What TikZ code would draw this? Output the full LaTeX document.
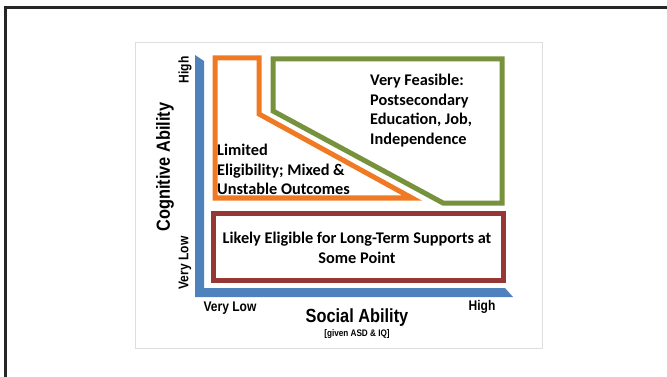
\documentclass[tikz,border=0pt]{standalone}
\usepackage{fontspec}
\setmainfont{Carlito}
\newfontfamily\axisfont[FakeStretch=0.86]{Liberation Sans}
\usepackage{tikz}
\usetikzlibrary{calc}
\tikzset{>=latex}
\definecolor{axisblue}{RGB}{79, 129, 189}
\definecolor{limorange}{RGB}{240, 122, 36}
\definecolor{feasgreen}{RGB}{118, 146, 60}
\definecolor{suppred}{RGB}{149, 55, 53}
\tikzset{
	zone/.style = {line width = 5pt, line join = miter},
	zonetext/.style = {font = \bfseries\fontsize{16.3}{19.5}\selectfont, inner sep = 0pt},
	axislabel/.style = {font = \axisfont\bfseries\fontsize{14}{16}\selectfont, inner sep = 0pt},
	axistitle/.style = {font = \axisfont\bfseries\fontsize{19}{21}\selectfont, inner sep = 0pt}
}

\begin{document}
\begin{tikzpicture}[x = 1pt, y = -1pt]
\useasboundingbox (0, 0) rectangle (667, 377);
% outer frame, open at right and bottom
\draw[line width = 3pt, black!85] (5, 377) -- (5, 8) -- (667, 8);
% slide border
\draw[black!13, line width = 1pt] (135, 43) rectangle (542, 348);

% axes
\fill[axisblue] (195, 55) -- (204, 61) -- (204, 288) -- (505, 288) -- (513, 297) -- (195, 297) -- cycle;

% zones
\draw[zone, limorange] (215, 58) -- (259, 58) -- (259, 114) -- (412, 198) -- (215, 198) -- cycle;
\draw[zone, feasgreen] (273, 59) -- (502, 59) -- (502, 203) -- (443, 203) -- (273, 111) -- cycle;
\draw[zone, suppred] (213, 213) rectangle (503, 280);

\node[zonetext, anchor = north west, align = left] (feasible) at (370, 74) {Very Feasible:\\Postsecondary\\Education, Job,\\Independence};
\node[zonetext, anchor = north west, align = left] (limited) at (217, 144) {Limited\\Eligibility; Mixed \&\\Unstable Outcomes};
\node[zonetext, align = center] (supports) at (357, 248) {Likely Eligible for Long-Term Supports at\\Some Point};

% axis labels
\node[axislabel] (xlow) at (230, 308) {Very Low};
\node[axislabel] (xhigh) at (482, 307) {High};
\node[axistitle] (xtitle) at (357, 318) {Social Ability};
\node[font = \axisfont\bfseries\fontsize{9.5}{10}\selectfont, inner sep = 0pt] (xnote) at (357, 334) {[given ASD \& IQ]};
\node[axislabel, rotate = 90] (ylow) at (185, 263) {Very Low};
\node[axislabel, rotate = 90] (yhigh) at (185, 70) {High};
\node[axistitle, rotate = 90] (ytitle) at (165, 167) {Cognitive Ability};

\end{tikzpicture}
\end{document}
